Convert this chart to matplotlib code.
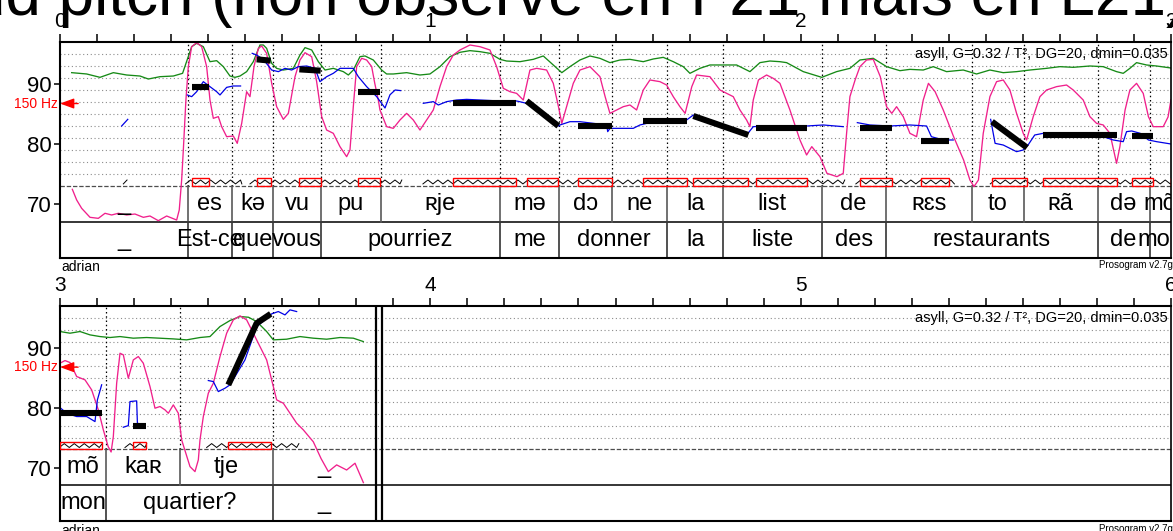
import numpy as np
import matplotlib.pyplot as plt
from matplotlib.patches import Rectangle

plt.rcParams['font.family'] = ['Liberation Sans', 'DejaVu Sans']

# ===================== DATA =====================
TITLE = "ud pitch (non observé en F21 mais en L21)"
SPEAKER = "adrian"
PARAMS = "asyll, G=0.32 / T², DG=20, dmin=0.035"
VERSION = "Prosogram v2.7g"
REF_HZ = 150

# tiers (time in s)
syl_bounds = [0.0, 0.3443, 0.4653, 0.5757, 0.7056, 0.8657, 1.1876, 1.3483, 1.4906,
              1.6404, 1.7898, 2.0563, 2.2299, 2.4616, 2.6020, 2.8018, 2.9420,
              3.1242, 3.3249, 3.5743, 3.8533]
syl_labels = ["_", "es", "kə", "vu", "pu", "ʀje", "mə", "dɔ", "ne", "la", "list",
              "de", "ʀɛs", "to", "ʀã", "də", "mõ", "kaʀ", "tje", "_"]
word_bounds = [0.0, 0.3443, 0.4653, 0.5757, 0.7056, 1.1876, 1.3483, 1.6404, 1.7898,
               2.0563, 2.2299, 2.8018, 2.9420, 3.1242, 3.5743, 3.8533]
word_labels = ["_", "Est-ce", "que", "vous", "pourriez", "me", "donner", "la", "liste",
               "des", "restaurants", "de", "mon", "quartier?", "_"]
signal_end = [3.8533, 3.8695]

# curves: (time s, semitones re 1 Hz)
green = np.array([
    (0.0315, 91.89), (0.072, 91.67), (0.108, 91.11), (0.144, 91.89), (0.18, 91.5),
    (0.216, 91.33), (0.2385, 90.83), (0.27, 91.22), (0.306, 91.33), (0.331, 91.78),
    (0.3465, 94.56), (0.3555, 96.22), (0.369, 96.78), (0.387, 96.22), (0.405, 93.72),
    (0.423, 93.89), (0.441, 92.89), (0.459, 91.33), (0.4725, 91.11), (0.486, 91.33),
    (0.504, 92.06), (0.522, 93.72), (0.54, 96.5), (0.549, 96.5), (0.558, 95.94),
    (0.5716, 93.44), (0.585, 92.61), (0.603, 92.33), (0.63, 92.61), (0.648, 94.83),
    (0.6616, 96.06), (0.6796, 95.67), (0.6976, 93.72), (0.7156, 92.33), (0.738, 92.61),
    (0.765, 92.06), (0.7786, 91.5), (0.792, 92.33), (0.81, 94.56), (0.8236, 94.67),
    (0.846, 94.0), (0.8686, 92.33), (0.882, 91.67), (0.900, 91.67), (0.936, 91.89),
    (0.972, 91.5), (0.999, 91.67), (1.026, 92.89), (1.053, 94.56), (1.080, 95.28),
    (1.107, 95.56), (1.134, 95.39), (1.161, 95.11), (1.188, 94.11), (1.206, 93.83),
    (1.242, 93.72), (1.278, 94.11), (1.305, 94.67), (1.332, 93.17), (1.355, 91.89),
    (1.377, 92.89), (1.404, 94.0), (1.431, 94.67), (1.458, 94.28), (1.485, 93.56),
    (1.512, 94.0), (1.539, 94.11), (1.575, 93.72), (1.602, 94.17), (1.629, 94.44),
    (1.656, 93.72), (1.683, 92.89), (1.701, 91.78), (1.728, 92.61), (1.755, 93.17),
    (1.791, 93.17), (1.827, 93.17), (1.845, 92.61), (1.863, 92.06), (1.890, 93.56),
    (1.917, 93.83), (1.944, 93.72), (1.962, 93.56), (2.007, 92.06), (2.057, 91.11),
    (2.097, 92.06), (2.133, 92.61), (2.160, 94.0), (2.196, 94.28), (2.232, 92.89),
    (2.268, 92.22), (2.295, 92.44), (2.331, 92.33), (2.358, 92.89), (2.394, 92.06),
    (2.439, 92.33), (2.475, 91.67), (2.511, 92.33), (2.547, 91.89), (2.583, 92.06),
    (2.619, 92.33), (2.664, 92.61), (2.700, 92.89), (2.736, 92.78), (2.781, 93.0),
    (2.817, 92.89), (2.853, 92.06), (2.871, 91.78), (2.889, 92.61), (2.907, 93.56),
    (2.934, 93.17), (2.961, 93.0), (3.0, 92.68), (3.027, 92.40), (3.054, 92.68),
    (3.081, 92.12), (3.108, 91.84), (3.135, 91.68), (3.162, 91.84), (3.198, 91.57),
    (3.234, 91.68), (3.270, 91.57), (3.306, 91.45), (3.342, 91.29), (3.378, 91.68),
    (3.405, 91.84), (3.432, 93.51), (3.459, 94.51), (3.486, 95.18), (3.509, 95.06),
    (3.531, 94.34), (3.558, 92.68), (3.576, 91.29), (3.612, 91.40), (3.648, 91.84),
    (3.684, 91.57), (3.720, 91.40), (3.756, 91.68), (3.792, 91.57), (3.819, 91.01),
])

pink = np.array([
    (0.0333, 72.45), (0.045, 70.67), (0.0585, 69.28), (0.081, 67.78), (0.1035, 67.61),
    (0.1215, 68.45), (0.1395, 68.17), (0.1575, 68.45), (0.18, 68.17), (0.2025, 68.33),
    (0.225, 67.78), (0.243, 68.0), (0.2655, 67.22), (0.288, 68.0), (0.315, 67.33),
    (0.322, 69.0), (0.3285, 74.0), (0.333, 79.0), (0.340, 87.33), (0.3465, 92.89),
    (0.3555, 96.22), (0.369, 96.89), (0.3825, 96.22), (0.396, 92.89), (0.405, 87.33),
    (0.414, 84.28), (0.4275, 84.56), (0.4365, 82.89), (0.450, 81.22), (0.468, 81.33),
    (0.4786, 80.11), (0.4906, 83.44), (0.504, 88.72), (0.513, 87.89), (0.5238, 92.89),
    (0.5356, 95.94), (0.5446, 96.33), (0.558, 95.11), (0.5716, 90.11), (0.585, 86.22),
    (0.603, 84.11), (0.6166, 85.11), (0.6346, 91.22), (0.648, 94.0), (0.6616, 95.22),
    (0.6796, 94.56), (0.693, 90.39), (0.7066, 84.56), (0.720, 82.33), (0.738, 81.78),
    (0.756, 79.56), (0.774, 77.89), (0.783, 79.0), (0.792, 86.22), (0.801, 92.89),
    (0.8146, 94.28), (0.828, 94.0), (0.8416, 92.9), (0.850, 90.1), (0.8596, 87.3),
    (0.864, 85.67), (0.882, 82.89), (0.900, 82.61), (0.918, 84.0), (0.936, 85.11),
    (0.954, 84.0), (0.972, 82.33), (0.990, 84.0), (1.008, 85.67), (1.026, 89.56),
    (1.044, 92.89), (1.062, 94.83), (1.080, 95.67), (1.107, 96.5), (1.134, 96.22),
    (1.161, 95.67), (1.179, 92.89), (1.197, 89.28), (1.215, 88.72), (1.233, 88.44),
    (1.251, 87.33), (1.269, 92.33), (1.287, 92.61), (1.314, 92.33), (1.332, 90.11),
    (1.346, 86.22), (1.355, 83.44), (1.368, 86.22), (1.386, 90.11), (1.404, 92.33),
    (1.431, 92.89), (1.458, 91.22), (1.472, 87.89), (1.485, 85.11), (1.503, 85.67),
    (1.521, 86.22), (1.539, 86.5), (1.557, 85.67), (1.575, 89.0), (1.593, 90.67),
    (1.620, 90.39), (1.638, 89.83), (1.656, 87.89), (1.674, 86.22), (1.688, 85.11),
    (1.706, 89.56), (1.719, 91.5), (1.755, 91.22), (1.782, 89.0), (1.800, 88.44),
    (1.818, 87.89), (1.836, 85.67), (1.854, 84.0), (1.863, 82.89), (1.872, 87.33),
    (1.886, 90.67), (1.908, 91.5), (1.926, 90.94), (1.944, 90.11), (1.971, 85.67),
    (1.998, 80.67), (2.016, 78.17), (2.030, 79.56), (2.052, 77.89), (2.071, 75.11),
    (2.098, 74.56), (2.115, 75.11), (2.124, 81.78), (2.133, 87.89), (2.147, 90.67),
    (2.160, 92.89), (2.178, 94.0), (2.196, 94.11), (2.215, 91.22), (2.232, 86.22),
    (2.246, 85.11), (2.259, 86.22), (2.277, 84.56), (2.295, 81.78), (2.313, 81.22),
    (2.331, 87.33), (2.345, 90.11), (2.363, 88.72), (2.385, 85.67), (2.413, 81.22),
    (2.440, 77.33), (2.457, 74.0), (2.468, 72.9), (2.480, 74.0), (2.493, 81.78),
    (2.511, 87.89), (2.529, 90.39), (2.547, 90.67), (2.565, 89.0), (2.583, 85.11),
    (2.601, 81.78), (2.610, 80.67), (2.628, 84.56), (2.646, 87.89), (2.664, 89.0),
    (2.691, 89.56), (2.718, 89.83), (2.736, 89.0), (2.763, 87.33), (2.781, 84.56),
    (2.799, 83.44), (2.817, 83.17), (2.835, 81.78), (2.853, 76.78), (2.862, 79.56),
    (2.876, 85.67), (2.889, 89.0), (2.907, 90.11), (2.925, 88.44), (2.939, 84.56),
    (2.952, 82.89), (2.979, 82.89), (2.992, 84.5), (3.0, 87.4), (3.0135, 87.84),
    (3.027, 87.51), (3.045, 85.18), (3.0675, 84.62), (3.0855, 82.95), (3.1035, 79.62),
    (3.117, 76.29), (3.130, 73.51), (3.138, 72.6), (3.144, 75.18), (3.153, 84.06),
    (3.162, 89.06), (3.171, 88.79), (3.1845, 84.9), (3.198, 87.95), (3.2115, 88.51),
    (3.225, 87.4), (3.243, 83.51), (3.2565, 79.9), (3.270, 80.18), (3.2835, 79.62),
    (3.2925, 79.06), (3.306, 80.45), (3.3195, 79.06), (3.3286, 74.6), (3.351, 70.17),
    (3.3645, 69.33), (3.3735, 71.28), (3.378, 74.6), (3.387, 78.51), (3.4005, 82.4),
    (3.414, 84.06), (3.432, 88.51), (3.450, 92.4), (3.468, 94.62), (3.486, 95.29),
    (3.504, 94.62), (3.531, 91.29), (3.558, 87.95), (3.5715, 84.62), (3.585, 81.29),
    (3.603, 80.73), (3.621, 79.06), (3.639, 77.4), (3.657, 76.29), (3.684, 74.3),
    (3.705, 71.5), (3.7246, 69.33), (3.747, 70.45), (3.774, 69.6), (3.7966, 70.73),
    (3.8192, 67.5),
])

nan = np.nan
blue = np.array([
    (0.1665, 83.0), (0.183, 84.11), (nan, nan),
    (0.344, 88.17), (0.3555, 87.89), (0.369, 88.72), (0.387, 90.39), (0.405, 89.56),
    (0.423, 88.72), (0.432, 88.17), (0.450, 89.44), (0.468, 89.67), (0.4876, 89.67), (nan, nan),
    (0.519, 95.11), (0.531, 94.83), (0.549, 94.11), (0.5716, 92.33), (0.5896, 92.06),
    (0.6076, 92.61), (0.6256, 92.33), (0.6436, 92.89), (0.666, 93.0), (0.6886, 92.61),
    (0.702, 90.39), (0.720, 91.22), (0.738, 91.78), (0.756, 92.61), (0.7786, 92.61),
    (0.792, 92.61), (0.8056, 91.22), (0.828, 89.56), (0.855, 87.9), (0.8776, 86.0),
    (0.891, 88.2), (0.905, 89.0), (0.920, 88.9), (nan, nan),
    (0.981, 86.78), (1.008, 87.06), (1.0216, 86.5), (1.044, 87.06), (1.071, 87.33),
    (1.098, 87.44), (1.134, 87.33), (1.188, 87.17), (1.233, 87.17), (1.260, 86.78),
    (1.300, 85.0), (1.3456, 83.0), (1.350, 83.17), (1.377, 83.72), (1.404, 83.72),
    (1.440, 83.44), (1.476, 83.17), (1.479, 82.06), (1.485, 82.61), (1.503, 82.61),
    (1.548, 82.61), (1.566, 83.17), (1.584, 83.44), (1.611, 83.72), (1.647, 83.89),
    (1.692, 84.0), (1.710, 84.83), (1.780, 83.2), (1.854, 81.5), (1.872, 82.89),
    (1.908, 83.0), (1.944, 83.0), (2.016, 83.0), (2.061, 83.17), (2.115, 82.89), (nan, nan),
    (2.153, 83.56), (2.187, 83.17), (2.241, 83.0), (2.295, 83.17), (2.340, 83.0),
    (2.353, 81.22), (2.385, 80.67), (2.412, 80.67), (nan, nan),
    (2.513, 84.11), (2.525, 80.11), (2.547, 79.83), (2.583, 78.72), (2.601, 79.0),
    (2.614, 79.83), (2.632, 81.5), (2.655, 81.78), (2.691, 81.5), (2.727, 81.5),
    (2.781, 81.22), (2.817, 81.22), (2.844, 80.67), (2.871, 80.39), (2.880, 82.06),
    (2.894, 82.17), (2.917, 81.78), (2.939, 80.67), (2.961, 80.39), (3.0, 80.0),
    (3.018, 79.06), (3.045, 78.51), (3.072, 78.51), (3.0945, 77.67), (3.101, 81.29),
    (3.1125, 83.8), (nan, nan),
    (3.171, 76.73), (3.1845, 77.0), (3.189, 81.01), (3.207, 81.12), (3.209, 77.4),
    (3.230, 77.0), (nan, nan),
    (3.4005, 84.51), (3.414, 84.34), (3.4275, 82.67), (3.4455, 83.23), (3.459, 83.79),
    (3.4995, 87.95), (3.531, 93.5), (3.5715, 95.62), (3.5895, 96.01), (3.6075, 95.45),
    (3.621, 96.29), (3.639, 96.01),
])

# stylised pitch per nucleus
styl_t = [[0.3555, 0.4033], [0.531, 0.5689], [0.6463, 0.7039], [0.8056, 0.8641],
          [1.062, 1.2313], [1.2601, 1.3456], [1.3996, 1.4896], [1.5752, 1.6922],
          [1.7102, 1.8587], [1.8794, 2.016], [2.160, 2.2457], [2.3249, 2.4014],
          [2.5167, 2.6112], [2.6553, 2.8533], [2.8938, 2.9505], [3.0, 3.1125],
          [3.198, 3.2322], [3.4545, 3.531, 3.5689]]
styl_st = [[89.56, 89.56], [94.11, 93.89], [92.44, 92.22], [88.72, 88.72],
           [86.89, 86.89], [87.17, 83.0], [83.0, 83.0], [83.83, 83.83],
           [84.67, 81.5], [82.72, 82.72], [82.72, 82.72], [80.5, 80.5],
           [83.72, 79.39], [81.56, 81.56], [81.33, 81.33], [79.06, 79.06],
           [77.01, 77.01], [83.79, 94.06, 95.62]]

# voiced stretches (zigzag marks)
zig_start = [0.171, 0.339, 0.513, 0.980, 2.149, 2.512, 3.1755, 3.396]
zig_end = [0.181, 0.491, 0.923, 2.119, 2.415, 3.114, 3.234, 3.645]

# ===================== LAYOUT =====================
ST_MIN, ST_WORD, ST_SYL, ST_MAX = 61.05, 67.05, 73.05, 97.0
BOX_TOP = 74.33
GRID = np.arange(75, 96, 2)
FS_TIER = 17

fig = plt.figure(figsize=(11.73, 5.31), dpi=100)
ax_top = fig.add_axes([60 / 1173, 1 - 257.7 / 531, 1111 / 1173, 215.7 / 531])
ax_bot = fig.add_axes([60 / 1173, 1 - 521.3 / 531, 1111 / 1173, 215.7 / 531])


def intervals(bounds, labels):
    return list(zip(bounds[:-1], bounds[1:], labels))


def draw_panel(ax, t0):
    t1 = t0 + 3
    ax.set_xlim(t0, t1)
    ax.set_ylim(ST_MIN, ST_MAX)

    for g in GRID:
        ax.axhline(g, color='0.55', lw=0.8, dashes=(1, 2.4), zorder=1)
    ax.axhline(ST_SYL, color='0.3', lw=0.9, dashes=(3.5, 1.5), zorder=1)
    ax.axhline(ST_WORD, color='k', lw=1.1, zorder=1)

    # syllable boundaries
    for b in syl_bounds[1:-1]:
        if t0 < b < t1:
            ax.plot([b, b], [ST_SYL, ST_MAX], color='k', lw=0.9, dashes=(1.2, 2.2), zorder=1)
            ax.plot([b, b], [ST_WORD, ST_SYL], color='0.35', lw=1.2, zorder=1)
    for b in word_bounds[1:-1]:
        if t0 < b < t1:
            ax.plot([b, b], [ST_MIN, ST_WORD], color='0.2', lw=1.2, zorder=1)
    for b in signal_end:
        if t0 < b < t1:
            ax.plot([b, b], [ST_MIN, ST_MAX], color='k', lw=1.6, zorder=3)

    # tier texts, centred in the visible part of each interval
    for bounds, labels, yc in ((syl_bounds, syl_labels, 70.05),
                               (word_bounds, word_labels, 64.05)):
        for a, b, lab in intervals(bounds, labels):
            va_, vb_ = max(a, t0), min(b, t1)
            if vb_ > va_:
                ax.text((va_ + vb_) / 2, yc, lab, ha='center', va='center',
                        fontsize=FS_TIER, clip_on=True, zorder=4)

    # curves
    ax.plot(green[:, 0], green[:, 1], color='#168a16', lw=0.95, zorder=2)
    ax.plot(pink[:, 0], pink[:, 1], color='#f0208c', lw=0.95, zorder=2)
    ax.plot(blue[:, 0], blue[:, 1], color='#0000e6', lw=0.9, zorder=2)

    # zigzags
    half = 0.0135
    for a, b in zip(zig_start, zig_end):
        n = max(int(np.ceil((b - a) / half)), 1)
        ts = np.minimum(a + np.arange(n + 1) * half, b)
        ys = np.where(np.arange(n + 1) % 2 == 0, 73.35, 74.0)
        ax.plot(ts, ys, color='k', lw=0.7, zorder=3)

    # nucleus boxes and stylisation
    for ts, ss in zip(styl_t, styl_st):
        ax.add_patch(Rectangle((ts[0], ST_SYL), ts[-1] - ts[0], BOX_TOP - ST_SYL,
                               fill=False, ec='red', lw=1.0, zorder=3))
        ax.plot(ts, ss, color='k', lw=4.4, solid_capstyle='butt', zorder=5)

    # reference pitch marker
    st_ref = 12 * np.log2(REF_HZ)
    ax.annotate('', xy=(t0, st_ref), xytext=(t0 + 0.049, st_ref),
                arrowprops=dict(arrowstyle='-|>,head_length=0.6,head_width=0.22',
                                mutation_scale=14, color='red', lw=1.0,
                                shrinkA=0, shrinkB=0), zorder=6)
    ax.annotate(f'{REF_HZ} Hz', xy=(0, st_ref), xycoords=('axes fraction', 'data'),
                xytext=(-1.5, 0), textcoords='offset points', ha='right', va='center',
                color='red', fontsize=10, annotation_clip=False)

    ax.text(0.9973, 95, PARAMS, transform=ax.get_yaxis_transform(), ha='right',
            va='center', fontsize=10.5, zorder=4)
    ax.annotate(SPEAKER, xy=(0, 0), xycoords='axes fraction', xytext=(1, -6.7),
                textcoords='offset points', ha='left', va='center', fontsize=10)
    ax.annotate(VERSION, xy=(1, 0), xycoords='axes fraction', xytext=(1, -5.3),
                textcoords='offset points', ha='right', va='center', fontsize=7)

    # axes
    ax.xaxis.tick_top()
    ax.set_xticks(np.arange(t0, t1 + 0.01, 1.0))
    ax.set_xticklabels([str(int(round(v))) for v in np.arange(t0, t1 + 0.01, 1.0)])
    ax.set_xticks(np.arange(t0, t1 + 0.001, 0.1), minor=True)
    ax.tick_params(axis='x', which='both', direction='out', length=5.8, width=1.1,
                   labelsize=15, pad=2)
    ax.set_yticks([70, 80, 90])
    ax.tick_params(axis='y', direction='out', length=4.3, width=1.1, labelsize=16, pad=1.5)
    for side in ('top', 'left', 'bottom'):
        ax.spines[side].set_linewidth(1.5)
    ax.spines['right'].set_linewidth(1.2)


draw_panel(ax_top, 0.0)
draw_panel(ax_bot, 3.0)

fig.text(-30 / 1173, 1 - 15.5 / 531, TITLE, ha='left', va='baseline', fontsize=46)

fig.savefig('out.png', dpi=100)
